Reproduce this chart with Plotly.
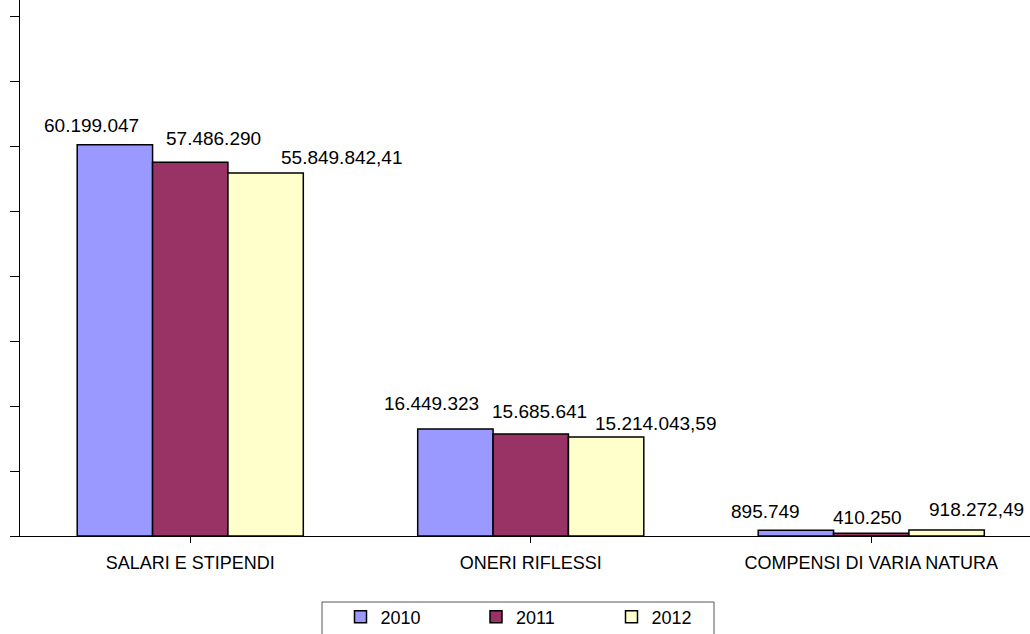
import plotly.graph_objects as go

categories = ["SALARI E STIPENDI", "ONERI RIFLESSI", "COMPENSI DI VARIA NATURA"]
years = ["2010", "2011", "2012"]
values_2010 = [60199047, 16449323, 895749]
values_2011 = [57486290, 15685641, 410250]
values_2012 = [55849842.41, 15214043.59, 918272.49]
labels_2010 = ["60.199.047", "16.449.323", "895.749"]
labels_2011 = ["57.486.290", "15.685.641", "410.250"]
labels_2012 = ["55.849.842,41", "15.214.043,59", "918.272,49"]

series = [values_2010, values_2011, values_2012]
series_labels = [labels_2010, labels_2011, labels_2012]
colors = ["#9999FF", "#993366", "#FFFFCC"]

FONT = "Liberation Sans, Arial, sans-serif"
BARGAP = 0.336
bar_w = (1 - BARGAP) / len(years)

# pixel nudges (dx, dy) for the value labels, [series][category]
nudges = [
    [(-23.5, 19.5), (-24, 26), (-30, 19)],
    [(23.5, 24), (8.5, 22.5), (-3.5, 16)],
    [(76.5, 15), (50, 13.5), (30, 21)],
]

fig = go.Figure()
for k, (yr, vals) in enumerate(zip(years, series)):
    fig.add_trace(go.Bar(
        name=yr, x=list(range(len(categories))), y=vals,
        marker=dict(color=colors[k], line=dict(color="black", width=1.5)),
    ))

annotations = []
for k, (vals, labs) in enumerate(zip(series, series_labels)):
    for i, (v, t) in enumerate(zip(vals, labs)):
        dx, dy = nudges[k][i]
        annotations.append(dict(
            x=i + (k - 1) * bar_w, y=v, xref="x", yref="y", text=t,
            showarrow=False, xanchor="center", yanchor="middle",
            xshift=dx, yshift=dy,
            font=dict(family=FONT, size=19, color="black"),
        ))

y_top = 536 / 65 * 10_000_000

# frame around the legend
legend_frame = dict(
    type="rect", xref="paper", yref="paper",
    x0=(322 - 20) / 1010, x1=(714 - 20) / 1010,
    y0=(536 - 602) / 536, y1=-0.25,
    line=dict(color="#555555", width=1), fillcolor="rgba(0,0,0,0)",
    layer="above",
)

fig.update_layout(
    width=1030, height=634,
    margin=dict(l=20, r=0, t=0, b=98),
    paper_bgcolor="white", plot_bgcolor="white",
    barmode="group", bargap=BARGAP, bargroupgap=0,
    font=dict(family=FONT, size=18, color="black"),
    showlegend=True,
    legend=dict(
        orientation="h", x=(340.5 - 20) / 1010, xanchor="left",
        yref="container", y=1 - 598.5 / 634, yanchor="top",
        entrywidth=90.5, entrywidthmode="pixels",
        borderwidth=0, bgcolor="rgba(0,0,0,0)",
        font=dict(family=FONT, size=18, color="black"),
    ),
    annotations=annotations,
    shapes=[legend_frame],
)
fig.update_xaxes(
    range=[-0.5, -0.5 + 1010 / 340.5],
    tickmode="array", tickvals=list(range(len(categories))), ticktext=categories,
    tickson="boundaries", ticks="outside", ticklen=6, tickcolor="black",
    showline=True, linecolor="black", linewidth=1,
    showgrid=False, zeroline=False, ticklabelstandoff=4,
    tickfont=dict(family=FONT, size=18, color="black"),
)
fig.update_yaxes(
    range=[0, y_top], dtick=10_000_000, tick0=0,
    showticklabels=False, ticks="outside", ticklen=9, tickcolor="black",
    showline=True, linecolor="black", linewidth=1,
    showgrid=False, zeroline=False,
)

fig.write_html("out.html")
